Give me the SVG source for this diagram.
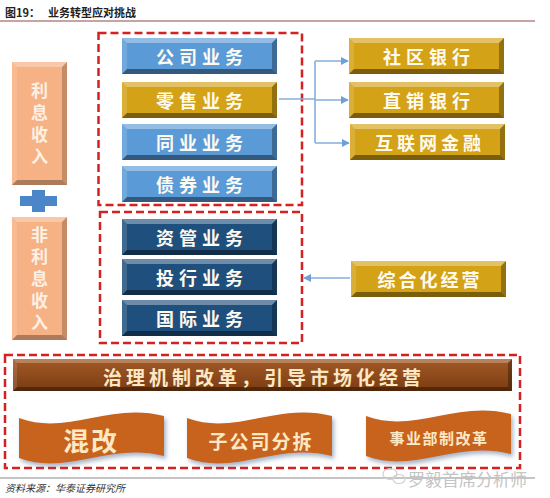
<svg xmlns="http://www.w3.org/2000/svg" xmlns:xlink="http://www.w3.org/1999/xlink" width="550" height="498" viewBox="0 0 550 498">
<style>
  text { font-family: "Noto Sans CJK SC", "Noto Sans", sans-serif; }
  .box { font-size: 18px; font-weight: bold; fill: #fffaf0; letter-spacing: 5px; text-anchor: middle; dominant-baseline: central; }
  .vt { font-size: 17px; font-weight: bold; fill: #fdf1e6; text-anchor: middle; writing-mode: vertical-rl; letter-spacing: 5px; }
  .dash { fill: none; stroke: #d42222; stroke-width: 2.5; stroke-dasharray: 8 4; }
  .conn { fill: none; stroke: #86aedb; stroke-width: 1.6; }
  .wv { fill: #fde8c6; font-weight: bold; text-anchor: middle; dominant-baseline: central; }
</style>
<defs>
  <g id="bev">
    <rect width="155" height="36"/>
    <polygon points="0,0 155,0 150,5 5,5" fill="#fff" opacity=".35"/>
    <polygon points="0,0 5,5 5,31 0,36" fill="#fff" opacity=".15"/>
    <polygon points="155,0 155,36 150,31 150,5" fill="#000" opacity=".3"/>
    <polygon points="0,36 5,31 150,31 155,36" fill="#000" opacity=".42"/>
  </g>
  <g id="bevTall">
    <rect width="55" height="123"/>
    <polygon points="0,0 55,0 50,5 5,5" fill="#fff" opacity=".3"/>
    <polygon points="0,0 5,5 5,118 0,123" fill="#fff" opacity=".12"/>
    <polygon points="55,0 55,123 50,118 50,5" fill="#000" opacity=".2"/>
    <polygon points="0,123 5,118 50,118 55,123" fill="#000" opacity=".3"/>
  </g>
  <path id="wave" d="M0,4 C48,22 90,-12 145,2 L145,42 C90,28 48,62 0,44 Z"/>
  <filter id="sh" x="-10%" y="-20%" width="125%" height="150%">
    <feDropShadow dx="2" dy="3" stdDeviation="2" flood-color="#5a7896" flood-opacity="0.55"/>
  </filter>
  <linearGradient id="bannerG" x1="0" y1="0" x2="0" y2="1">
    <stop offset="0" stop-color="#a35a26"/>
    <stop offset="1" stop-color="#7a3c12"/>
  </linearGradient>
  <marker id="arr" viewBox="0 0 10 10" refX="9" refY="5" markerWidth="8" markerHeight="8" markerUnits="userSpaceOnUse" orient="auto">
    <path d="M0,0 L10,5 L0,10 Z" fill="#6e9fd6"/>
  </marker>
</defs>

<rect width="550" height="498" fill="#fff"/>

<!-- title -->
<g id="title">
  <text x="5" y="17" font-size="11" font-weight="bold" fill="#222">图19：</text>
  <text x="48" y="17" font-size="11" font-weight="bold" fill="#222">业务转型应对挑战</text>
  <line x1="0" y1="21" x2="535" y2="21" stroke="#8e4a4a" stroke-width="1.2"/>
</g>

<!-- dashed containers -->
<g id="containers">
  <rect class="dash" x="98.5" y="33" width="203.5" height="172"/>
  <rect class="dash" x="100" y="212" width="202" height="131"/>
  <rect class="dash" x="5" y="355" width="515" height="113"/>
</g>

<!-- left income boxes -->
<g id="n-lixi">
  <use xlink:href="#bevTall" x="12" y="62" fill="#f6b185"/>
  <text class="vt" x="39.5" y="126.5">利息收入</text>
</g>
<g id="n-plus">
  <rect x="20" y="196" width="37" height="10" fill="#4a86c8"/>
  <rect x="32" y="190" width="13" height="22" fill="#4a86c8"/>
</g>
<g id="n-feilixi">
  <use xlink:href="#bevTall" x="12" y="217" fill="#f6b185"/>
  <text class="vt" x="39.5" y="281.5">非利息收入</text>
</g>

<!-- blue business boxes -->
<g id="n-gongsi">
  <use xlink:href="#bev" x="122" y="38" fill="#5a9ad6"/>
  <text class="box" x="202" y="56">公司业务</text>
</g>
<g id="n-lingshou">
  <use xlink:href="#bev" x="122" y="82" fill="#d4a216"/>
  <text class="box" x="202" y="100">零售业务</text>
</g>
<g id="n-tongye">
  <use xlink:href="#bev" x="122" y="124" fill="#5a9ad6"/>
  <text class="box" x="202" y="142">同业业务</text>
</g>
<g id="n-zhaiquan">
  <use xlink:href="#bev" x="122" y="166" fill="#5a9ad6"/>
  <text class="box" x="202" y="184">债券业务</text>
</g>

<!-- navy boxes -->
<g id="n-ziguan">
  <use xlink:href="#bev" x="122" y="219" fill="#1f4f7c"/>
  <text class="box" x="202" y="237">资管业务</text>
</g>
<g id="n-touhang">
  <use xlink:href="#bev" x="122" y="259" fill="#1f4f7c"/>
  <text class="box" x="202" y="277">投行业务</text>
</g>
<g id="n-guoji">
  <use xlink:href="#bev" x="122" y="300" fill="#1f4f7c"/>
  <text class="box" x="202" y="318">国际业务</text>
</g>

<!-- right gold boxes -->
<g id="n-shequ">
  <use xlink:href="#bev" x="349" y="38" fill="#d4a216"/>
  <text class="box" x="429" y="56">社区银行</text>
</g>
<g id="n-zhixiao">
  <use xlink:href="#bev" x="349" y="82" fill="#d4a216"/>
  <text class="box" x="429" y="100">直销银行</text>
</g>
<g id="n-hulianwang">
  <use xlink:href="#bev" x="350" y="124" fill="#d4a216"/>
  <text class="box" x="430" y="142" style="letter-spacing:4px">互联网金融</text>
</g>
<g id="n-zonghe">
  <use xlink:href="#bev" x="351" y="261" fill="#d4a216"/>
  <text class="box" x="430" y="279" style="letter-spacing:3px">综合化经营</text>
</g>

<!-- connectors -->
<g id="connectors">
  <polyline class="conn" points="279,99 315,99"/>
  <polyline class="conn" points="315,61 315,143"/>
  <line class="conn" x1="315" y1="61" x2="348" y2="61" marker-end="url(#arr)"/>
  <line class="conn" x1="315" y1="100" x2="348" y2="100" marker-end="url(#arr)"/>
  <line class="conn" x1="315" y1="143" x2="349" y2="143" marker-end="url(#arr)"/>
  <line class="conn" x1="350" y1="278" x2="304" y2="278" marker-end="url(#arr)"/>
</g>

<!-- governance banner -->
<g id="n-banner">
  <rect x="13" y="359" width="499" height="32" fill="url(#bannerG)"/>
  <polygon points="13,359 512,359 508,363 17,363" fill="#fff" opacity=".25"/>
  <polygon points="512,359 512,391 508,387 508,363" fill="#000" opacity=".3"/>
  <polygon points="13,391 17,387 508,387 512,391" fill="#000" opacity=".35"/>
  <polygon points="13,359 17,363 17,387 13,391" fill="#fff" opacity=".12"/>
  <text x="264" y="376" font-size="19" font-weight="bold" fill="#fde8c6" text-anchor="middle" dominant-baseline="central" letter-spacing="4">治理机制改革，引导市场化经营</text>
</g>

<!-- wave nodes -->
<g id="n-hungai">
  <use xlink:href="#wave" x="19" y="414" fill="#c7631c" filter="url(#sh)"/>
  <text class="wv" x="91" y="439" font-size="26" letter-spacing="2">混改</text>
</g>
<g id="n-zigongsi">
  <use xlink:href="#wave" x="187" y="414" fill="#c7631c" filter="url(#sh)"/>
  <text class="wv" x="261" y="440" font-size="19" letter-spacing="2">子公司分拆</text>
</g>
<g id="n-shiyebu">
  <use xlink:href="#wave" x="366" y="412" fill="#c7631c" filter="url(#sh)"/>
  <text class="wv" x="439" y="437" font-size="15" letter-spacing="1.5">事业部制改革</text>
</g>

<!-- footer -->
<g id="footer">
  <line x1="0" y1="478" x2="535" y2="478" stroke="#8a8a8a" stroke-width="1"/>
  <ellipse cx="390" cy="474" rx="7" ry="5.5" fill="none" stroke="#cfcfcf" stroke-width="1.2"/>
  <ellipse cx="399" cy="479" rx="6" ry="4.5" fill="none" stroke="#cfcfcf" stroke-width="1.2"/>
  <text x="408" y="478" font-size="17" fill="#c4c4c4" dominant-baseline="central">罗毅首席分析师</text>
  <text x="5" y="492" font-size="10" font-style="italic" fill="#333">资料来源：华泰证券研究所</text>
</g>
</svg>
